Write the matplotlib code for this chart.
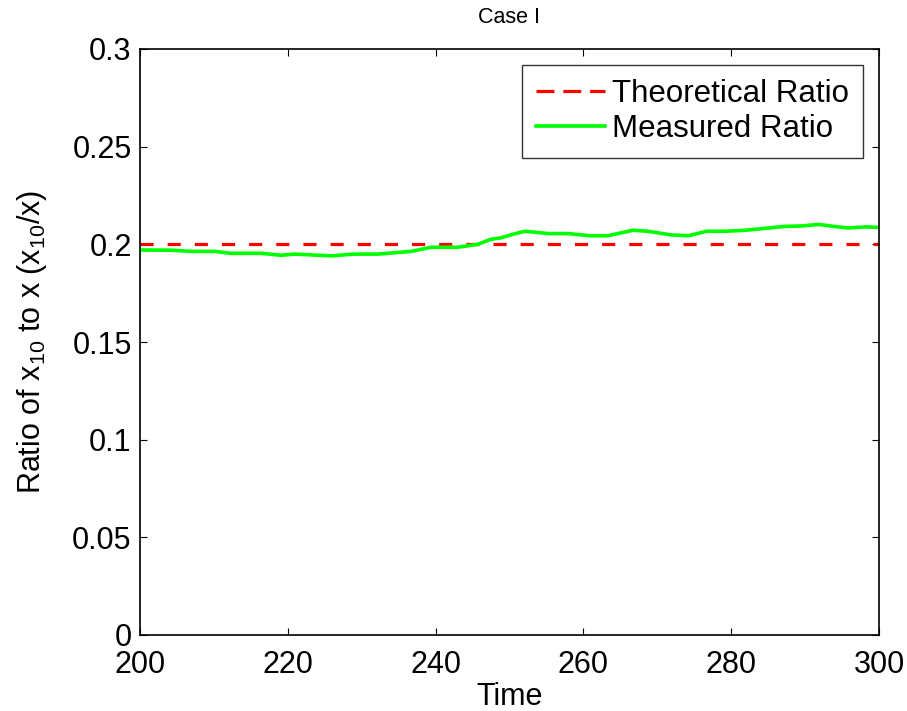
import matplotlib
matplotlib.use("Agg")
import matplotlib.pyplot as plt
from matplotlib.lines import Line2D

plt.rcParams['font.family'] = ['Liberation Sans', 'DejaVu Sans']
plt.rcParams['mathtext.default'] = 'regular'

time_pts = [200.2, 204.2, 206.9, 210.1, 212.3, 216.4, 219.1, 220.9, 225.9, 229.0,
            232.2, 236.7, 239.4, 243.0, 245.7, 247.5, 248.8, 250.5, 252.1, 255.3,
            258.0, 260.8, 263.3, 266.7, 268.7, 271.9, 274.2, 276.7, 279.2, 281.9,
            284.6, 287.3, 289.6, 291.8, 294.5, 295.8, 298.1, 300.0]
measured = [0.1971, 0.1970, 0.1964, 0.1964, 0.1954, 0.1954, 0.1944, 0.1950, 0.1941, 0.1950,
            0.1950, 0.1964, 0.1985, 0.1985, 0.2000, 0.2026, 0.2033, 0.2052, 0.2067, 0.2055,
            0.2055, 0.2044, 0.2044, 0.2072, 0.2067, 0.2048, 0.2044, 0.2067, 0.2067, 0.2072,
            0.2082, 0.2092, 0.2094, 0.2102, 0.2089, 0.2084, 0.2089, 0.2087]
theoretical = 0.2
x_ticks = [200, 220, 240, 260, 280, 300]
y_ticks = [0, 0.05, 0.1, 0.15, 0.2, 0.25, 0.3]
y_ticklabels = ['0', '0.05', '0.1', '0.15', '0.2', '0.25', '0.3']

fig = plt.figure(figsize=(9.07, 7.11), dpi=100)
ax = fig.add_axes([140/907, 1-635/711, (879-140)/907, (635-49)/711])

ax.plot([200, 300], [theoretical, theoretical], color='#ff0000', lw=2.3,
        linestyle=(0, (4.1, 4.4)))
ax.plot(time_pts, measured, color='#00ff00', lw=2.6)

ax.set_xlim(200, 300)
ax.set_ylim(0, 0.3)
ax.set_xticks(x_ticks)
ax.set_yticks(y_ticks)
ax.set_yticklabels(y_ticklabels)
ax.tick_params(direction='in', top=True, right=True, labelsize=22, length=5, width=0.8)
ax.tick_params(axis='x', pad=11)
ax.tick_params(axis='y', pad=6)
for s in ax.spines.values():
    s.set_linewidth(1.2)

ax.set_xlabel('Time', fontsize=22, labelpad=1)
ax.set_ylabel('Ratio of x$_{10}$ to x (x$_{10}$/x)', fontsize=22, labelpad=17)
ax.set_title('Case I', fontsize=15.5, pad=19)

h1 = Line2D([], [], color='#ff0000', lw=2.3, linestyle=(0, (5.6, 2.8)))
h2 = Line2D([], [], color='#00ff00', lw=2.6)
leg = ax.legend([h1, h2], ['Theoretical Ratio', 'Measured Ratio'], loc='upper right',
                fontsize=22.5, frameon=True, fancybox=False, edgecolor='black',
                borderpad=0.45, handlelength=2.2, handletextpad=0.25,
                labelspacing=0.18, borderaxespad=0.5)
leg.get_frame().set_linewidth(1.0)

fig.savefig('out.png', dpi=100)
